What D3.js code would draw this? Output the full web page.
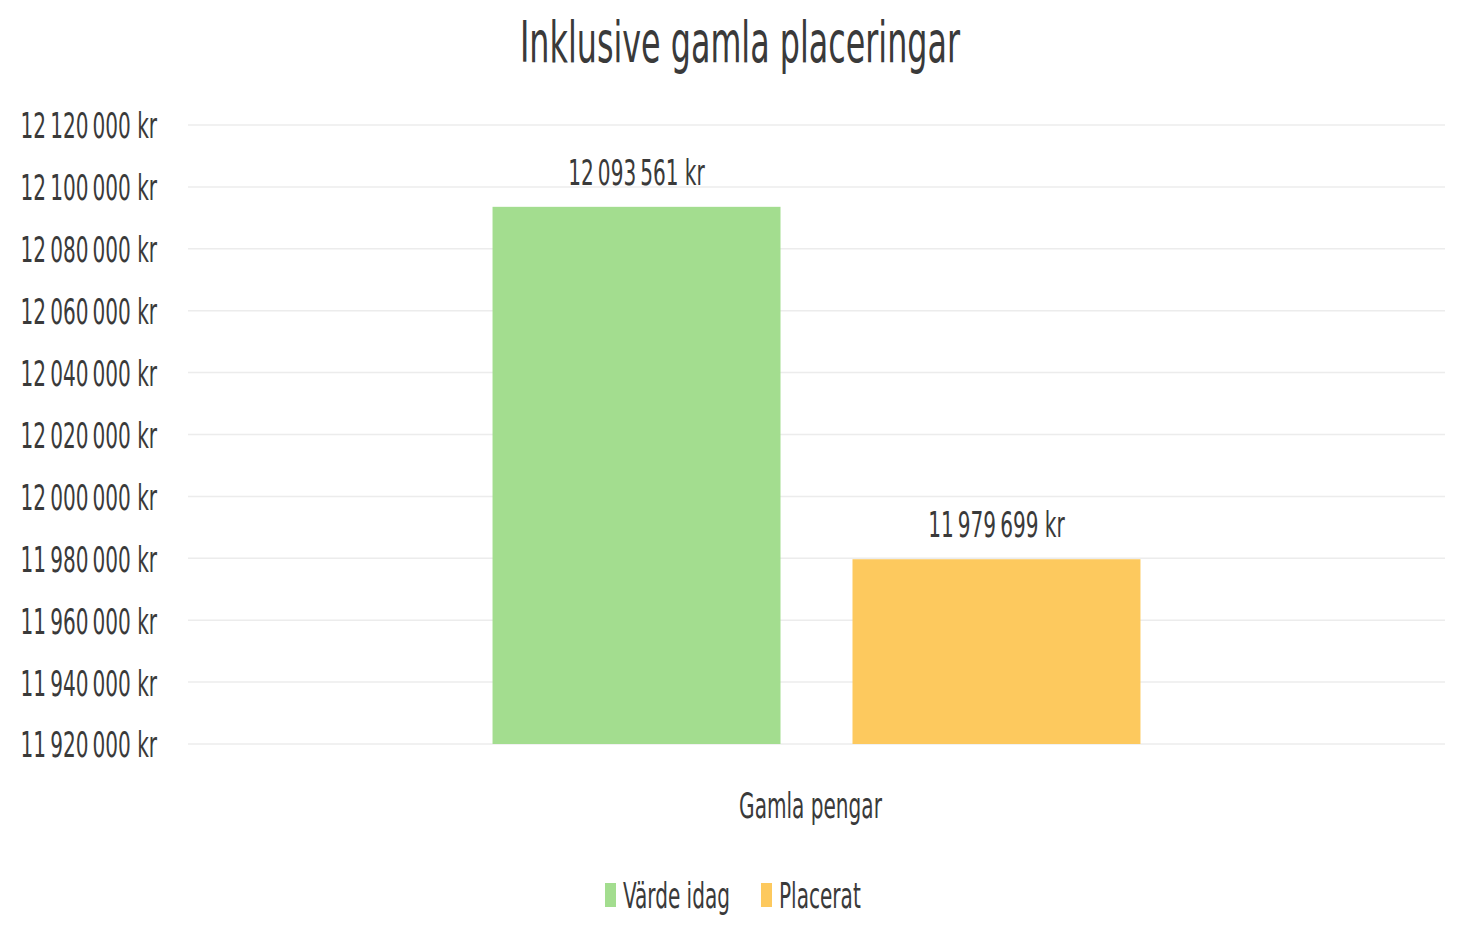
<!DOCTYPE html>
<html>
<head>
<meta charset="utf-8">
<script src="https://cdn.jsdelivr.net/npm/d3@7"></script>
<style>
  body { margin: 0; background: #fff; }
  text { font-family: "Liberation Sans Narrow", "DejaVu Sans Condensed", "Roboto Condensed", sans-serif; fill: #3a3a3a; }
</style>
</head>
<body>
<div id="chart"></div>
<script>
// data
const title = "Inklusive gamla placeringar";
const categories = ["Gamla pengar"];
const seriesNames = ["Värde idag", "Placerat"];
const seriesValues = [12093561, 11979699];
const seriesColors = ["#a3dd8f", "#fdc95e"];
const tickValues = [11920000, 11940000, 11960000, 11980000, 12000000, 12020000,
                    12040000, 12060000, 12080000, 12100000, 12120000];

const width = 1470, height = 945;
const margin = {top: 125, right: 25, bottom: 201, left: 188};
const squeeze = 0.62; // the original font is much narrower (Calibri-like)

const svg = d3.select("#chart").append("svg")
    .attr("width", width)
    .attr("height", height);

// swedish style number: spaces as thousands separator
const sv = d3.formatLocale({decimal: ",", thousands: "\u2009", grouping: [3], currency: ["", " kr"]});
const fmt = v => sv.format(",.0f")(v) + " kr";

// squeeze text horizontally so it looks like a condensed font
function condense(sel, k) {
  sel.each(function() {
    const t = d3.select(this);
    const x = +t.attr("x") || 0, y = +t.attr("y") || 0;
    t.attr("x", 0).attr("y", 0)
     .attr("transform", `translate(${x},${y}) scale(${k},1)`);
  });
}

const y = d3.scaleLinear()
    .domain([tickValues[0], tickValues[tickValues.length - 1]])
    .range([height - margin.bottom, margin.top]);

const x0 = d3.scaleBand()
    .domain(categories)
    .range([margin.left, width - margin.right])
    .paddingInner(0)
    .paddingOuter(0.47);

const x1 = d3.scaleBand()
    .domain(seriesNames)
    .range([0, x0.bandwidth()])
    .paddingInner(0.2);

// gridlines
svg.append("g")
    .selectAll("line")
    .data(tickValues)
    .join("line")
    .attr("x1", margin.left)
    .attr("x2", width - margin.right)
    .attr("y1", d => y(d))
    .attr("y2", d => y(d))
    .attr("stroke", "#ececec")
    .attr("stroke-width", 1.5);

// y axis labels
const yAxis = d3.axisLeft(y).tickValues(tickValues).tickFormat(fmt).tickSize(0).tickPadding(31);
const gy = svg.append("g")
    .attr("transform", `translate(${margin.left},0)`)
    .call(yAxis);
gy.select(".domain").remove();
gy.selectAll("text")
    .attr("font-size", 36)
    .attr("fill", "#3a3a3a")
    .attr("dy", "0.36em")
    .style("font-family", null)
    .call(condense, squeeze);

// bars
const groups = svg.append("g")
    .selectAll("g")
    .data(categories)
    .join("g")
    .attr("transform", d => `translate(${x0(d)},0)`);

const barData = seriesNames.map((s, i) => ({name: s, value: seriesValues[i], color: seriesColors[i]}));

groups.selectAll("rect")
    .data(barData)
    .join("rect")
    .attr("x", d => x1(d.name))
    .attr("y", d => y(d.value))
    .attr("width", x1.bandwidth())
    .attr("height", d => y(tickValues[0]) - y(d.value))
    .attr("fill", d => d.color);

groups.selectAll("text.val")
    .data(barData)
    .join("text")
    .attr("class", "val")
    .attr("x", d => x1(d.name) + x1.bandwidth() / 2)
    .attr("y", d => y(d.value) - 22)
    .attr("text-anchor", "middle")
    .attr("font-size", 36)
    .text(d => fmt(d.value))
    .call(condense, squeeze);

// category label
svg.append("g")
    .selectAll("text")
    .data(categories)
    .join("text")
    .attr("x", d => x0(d) + x0.bandwidth() / 2 - 6)
    .attr("y", height - margin.bottom + 74)
    .attr("text-anchor", "middle")
    .attr("font-size", 36)
    .text(d => d)
    .call(condense, squeeze);

// title
svg.append("text")
    .attr("x", 740)
    .attr("y", 62)
    .attr("text-anchor", "middle")
    .attr("font-size", 57)
    .text(title)
    .call(condense, squeeze);

// legend
const legend = svg.append("g").attr("transform", "translate(605,895)");
const legendPos = [0, 156];
const item = legend.selectAll("g")
    .data(barData)
    .join("g")
    .attr("transform", (d, i) => `translate(${legendPos[i]},0)`);
item.append("rect")
    .attr("x", 0).attr("y", -12)
    .attr("width", 11).attr("height", 24)
    .attr("fill", d => d.color);
item.append("text")
    .attr("x", 18).attr("y", 13)
    .attr("font-size", 36)
    .text(d => d.name)
    .call(condense, squeeze);
</script>
</body>
</html>
